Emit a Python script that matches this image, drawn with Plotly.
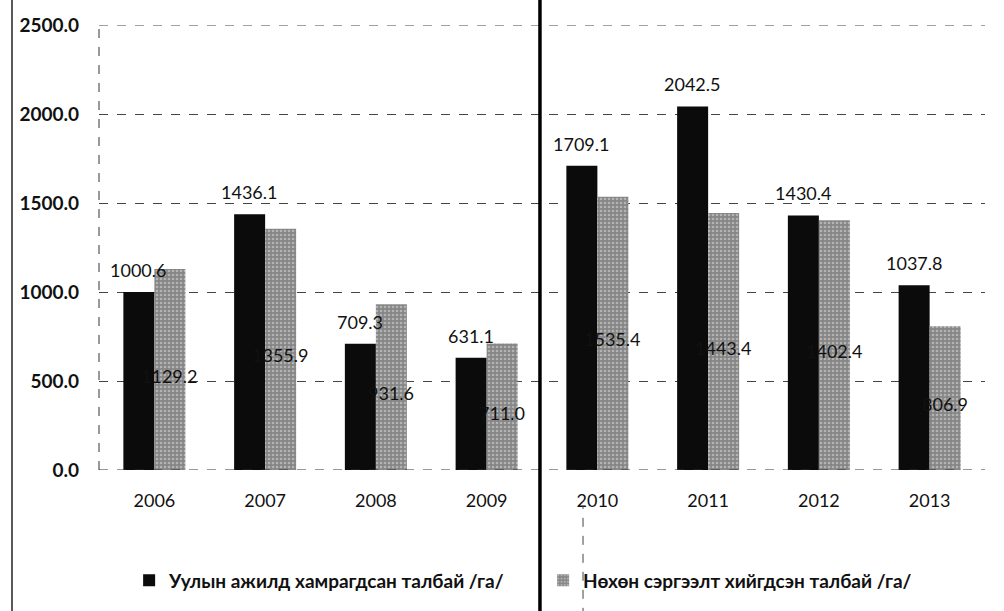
import plotly.graph_objects as go

years = ["2006", "2007", "2008", "2009", "2010", "2011", "2012", "2013"]
mining_area = [1000.6, 1436.1, 709.3, 631.1, 1709.1, 2042.5, 1430.4, 1037.8]
rehab_area = [1129.2, 1355.9, 931.6, 711.0, 1535.4, 1443.4, 1402.4, 806.9]
y_ticks = [0, 500, 1000, 1500, 2000, 2500]
name_mining = "Уулын ажилд хамрагдсан талбай /га/"
name_rehab = "Нөхөн сэргээлт хийгдсэн талбай /га/"

FONT = "Lato"

fig = go.Figure()
fig.add_trace(go.Bar(
    x=years, y=mining_area, name=name_mining,
    marker=dict(color="#0b0b0b", line=dict(width=0)),
))
fig.add_trace(go.Bar(
    x=years, y=rehab_area, name=name_rehab,
    marker=dict(color="#858585", line=dict(width=0),
                pattern=dict(shape=".", fgcolor="#e2e2e2", size=4, solidity=0.35,
                             fillmode="overlay")),
))

annotations = []
for i, v in enumerate(mining_area):
    annotations.append(dict(x=i, y=v, xref="x", yref="y", text=f"{v:.1f}", showarrow=False,
                            xshift=-16, yshift=22,
                            font=dict(family=FONT, size=18, color="#111")))
for i, v in enumerate(rehab_area):
    annotations.append(dict(x=i, y=v / 2, xref="x", yref="y", text=f"{v:.1f}", showarrow=False,
                            xshift=15, yshift=-6,
                            font=dict(family=FONT, size=18, color="#111")))

shapes = [
    dict(type="line", xref="paper", yref="paper", x0=0, x1=0, y0=0, y1=1,
         line=dict(color="#333", width=1, dash="dash")),
    dict(type="line", xref="paper", yref="y", x0=0, x1=1, y0=y_ticks[0], y1=y_ticks[0],
         line=dict(color="#333", width=1, dash="dash")),
    dict(type="line", xref="paper", yref="y", x0=0, x1=1, y0=y_ticks[-1], y1=y_ticks[-1],
         line=dict(color="#444", width=1, dash="dash")),
    dict(type="line", xref="paper", yref="paper", x0=-0.0982, x1=-0.0982, y0=-0.33, y1=1.06,
         line=dict(color="#222", width=1.5)),
    dict(type="line", xref="paper", yref="paper", x0=0.4977, x1=0.4977, y0=-0.33, y1=1.06,
         line=dict(color="#000", width=3.5)),
    dict(type="line", xref="paper", yref="paper", x0=0.5463, x1=0.5463, y0=-0.33, y1=-0.08,
         line=dict(color="#444", width=1, dash="dash")),
]

fig.update_layout(
    width=1004, height=611,
    margin=dict(l=99, r=19, t=25, b=139),
    paper_bgcolor="white", plot_bgcolor="white",
    barmode="group", bargap=0.44, bargroupgap=0,
    font=dict(family=FONT, size=16, color="#111"),
    showlegend=True,
    legend=dict(orientation="h", x=0.034, y=-0.248, xanchor="left", yanchor="middle",
                entrywidth=369, entrywidthmode="pixels",
                font=dict(family=FONT, size=19, color="#111", weight="bold"),
                bgcolor="rgba(0,0,0,0)"),
    annotations=annotations,
    shapes=shapes,
)
fig.update_xaxes(
    type="category", categoryorder="array", categoryarray=years,
    range=[-0.5, len(years) - 0.5],
    showgrid=False, showline=False, zeroline=False,
    ticks="", ticklabelstandoff=18,
    tickfont=dict(family=FONT, size=18, color="#111"),
)
fig.update_yaxes(
    range=[0, 2500], tickvals=y_ticks, tickformat=".1f",
    showgrid=True, gridcolor="#444", gridwidth=1, griddash="dash",
    zeroline=False, showline=False, ticks="", ticklabelstandoff=19,
    tickfont=dict(family=FONT, size=19, color="#111", weight="bold"),
)

fig.write_html(
    "out.html",
    config={"displayModeBar": False},
    post_script="document.body.style.margin='0';document.body.style.overflow='hidden';",
)
